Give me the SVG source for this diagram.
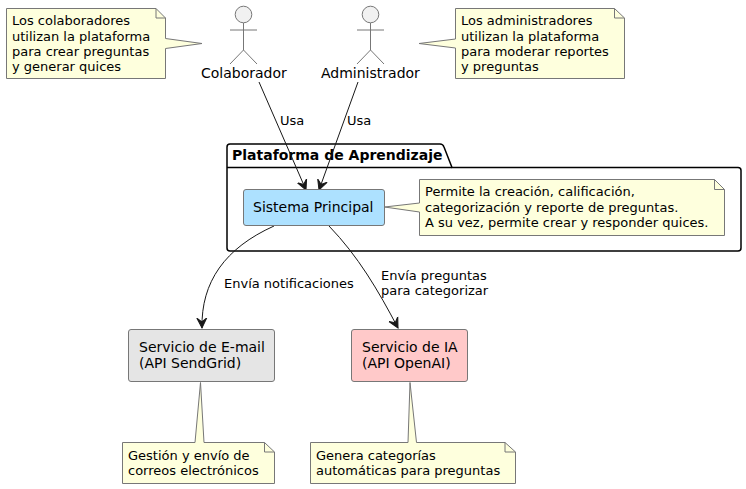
<svg xmlns="http://www.w3.org/2000/svg" width="746" height="489" viewBox="0 0 746 489">
<style>
text{font-family:"DejaVu Sans",sans-serif;fill:#000}
.n{font-size:13px}
.b{font-size:14px}
.l{font-size:13px}
.note{fill:#FEFFDD;stroke:#777;stroke-width:1}
.fold{fill:none;stroke:#777;stroke-width:1}
.act{fill:none;stroke:#777;stroke-width:1}
.box{stroke:#777;stroke-width:1}
.c{fill:none;stroke:#181818;stroke-width:1}
</style>
<defs>
<marker id="a" markerUnits="userSpaceOnUse" markerWidth="14" markerHeight="12" refX="10" refY="5" orient="auto" viewBox="0 0 14 10"><path d="M0 0L10 5L0 10L4 5Z" fill="#181818" stroke="#181818" stroke-width="1"/></marker>
</defs>
<g id="pkg">
<path d="M227 168V147Q227 144 230 144H440Q443 144 444 147L452 167.500H738Q741 167.500 741 170.500V248Q741 251 738 251H230Q227 251 227 248Z" fill="#fff" stroke="#000" stroke-width="1.500"/>
<path d="M227 167.500H452" fill="none" stroke="#000" stroke-width="1.500"/>
<text x="232" y="160" font-size="14" font-weight="bold">Plataforma de Aprendizaje</text>
</g>
<g id="connectors">
<path class="c" d="M259 82L306 190" marker-end="url(#a)"/>
<path class="c" d="M358 82L319 190" marker-end="url(#a)"/>
<path class="c" d="M274 226C225 248 201 282 202 328" marker-end="url(#a)"/>
<path class="c" d="M329 226C358 256 378 290 398 328" marker-end="url(#a)"/>
<text class="l" x="280" y="125">Usa</text>
<text class="l" x="347" y="125">Usa</text>
<text class="l" x="224" y="288">Envía notificaciones</text>
<text class="l" x="381" y="280">Envía preguntas</text>
<text class="l" x="381" y="295">para categorizar</text>
</g>
<g id="actor-colaborador">
<circle cx="243.500" cy="14.500" r="8.300" fill="#f1f1f1" stroke="#777" stroke-width="1"/>
<path class="act" d="M243.500 23V50M230 30H257M243.500 50L230 64M243.500 50L257 64"/>
<text x="201" y="78" font-size="14">Colaborador</text>
</g>
<g id="actor-administrador">
<circle cx="370.500" cy="14.500" r="8.300" fill="#f1f1f1" stroke="#777" stroke-width="1"/>
<path class="act" d="M370.500 23V50M357 30H384M370.500 50L357 64M370.500 50L384 64"/>
<text x="321" y="78" font-size="14">Administrador</text>
</g>
<g id="note-colaborador">
<path class="note" d="M6.500 8.500H156L165.500 18V38.500L202 43.500L165.500 48.500V78.500H6.500Z"/>
<path class="fold" d="M156 8.500V18H165.500"/>
<text class="n" x="12" y="25">Los colaboradores</text>
<text class="n" x="12" y="41">utilizan la plataforma</text>
<text class="n" x="12" y="56">para crear preguntas</text>
<text class="n" x="12" y="71">y generar quices</text>
</g>
<g id="note-administrador">
<path class="note" d="M455.500 8.500H614.500L624.500 18V78.500H455.500V48L419 43.500L455.500 39Z"/>
<path class="fold" d="M614.500 8.500V18H624.500"/>
<text class="n" x="461" y="25">Los administradores</text>
<text class="n" x="461" y="41">utilizan la plataforma</text>
<text class="n" x="461" y="56">para moderar reportes</text>
<text class="n" x="461" y="71">y preguntas</text>
</g>
<g id="sistema-principal">
<rect class="box" x="243.500" y="189.500" width="141" height="36" rx="2.500" fill="#ADE1FF"/>
<text class="b" x="253" y="212">Sistema Principal</text>
</g>
<g id="note-sistema">
<path class="note" d="M419.500 179.500H714.500L724.500 189.500V235.500H419.500V212L384.500 207L419.500 203Z"/>
<path class="fold" d="M714.500 179.500V189.500H724.500"/>
<text class="n" x="425" y="196">Permite la creación, calificación,</text>
<text class="n" x="425" y="212">categorización y reporte de preguntas.</text>
<text class="n" x="425" y="227">A su vez, permite crear y responder quices.</text>
</g>
<g id="servicio-email">
<rect class="box" x="128.500" y="329.500" width="146" height="52" rx="2.500" fill="#E5E5E5"/>
<text class="b" x="139" y="352">Servicio de E-mail</text>
<text class="b" x="139" y="368">(API SendGrid)</text>
</g>
<g id="note-email">
<path class="note" d="M122.500 442.500H195L200.500 382.500L204 442.500H264.500L274.500 452V483.500H122.500Z"/>
<path class="fold" d="M264.500 442.500V452H274.500"/>
<text class="n" x="128" y="460">Gestión y envío de</text>
<text class="n" x="128" y="475">correos electrónicos</text>
</g>
<g id="servicio-ia">
<rect class="box" x="351.500" y="329.500" width="116" height="52" rx="2.500" fill="#FFC9C9"/>
<text class="b" x="362" y="352">Servicio de IA</text>
<text class="b" x="362" y="368">(API OpenAI)</text>
</g>
<g id="note-ia">
<path class="note" d="M310.500 442.500H408L410 382.500L416.500 442.500H505L515.500 452V483.500H310.500Z"/>
<path class="fold" d="M505 442.500V452H515.500"/>
<text class="n" x="316" y="460">Genera categorías</text>
<text class="n" x="316" y="475">automáticas para preguntas</text>
</g>
</svg>
